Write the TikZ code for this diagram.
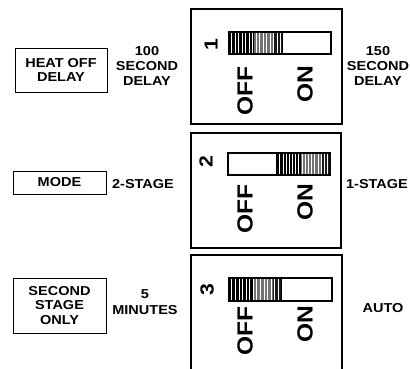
\documentclass[tikz,border=0pt]{standalone}
\usepackage{fontspec}
\setmainfont{Liberation Sans}[FakeStretch=1.12]
\newcommand{\swstripes}[4]{%
  \foreach \i in {0,...,36} {
    \pgfmathsetmacro{\xx}{#1+\i*(#2-#1)/36}
    \pgfmathsetmacro{\gv}{\i<17 ? 0 : (\i<31 ? 45 : 10)}
    \draw[line width=0.75bp, color={black!\fpeval{100-\gv}}] (\xx,#3) -- (\xx,#4);
  }%
}
\begin{document}
\begin{tikzpicture}[x=1bp,y=-1bp,
  lbl/.style={font=\bfseries\fontsize{13}{15.5}\selectfont, align=center, inner sep=0pt},
  sbox/.style={draw, line width=0.9bp, inner sep=0pt, font=\bfseries\fontsize{13}{14.5}\selectfont, align=center},
  bigbox/.style={draw, line width=1.4bp, inner sep=0pt},
  swbox/.style={draw, line width=1.3bp, fill=white, inner sep=0pt},
  onoff/.style={font=\bfseries\fontsize{22}{22}\selectfont, rotate=90, inner sep=0pt},
  num/.style={font=\bfseries\fontsize{19}{19}\selectfont, rotate=90, inner sep=0pt}]
\useasboundingbox (0,0) rectangle (410,369);

% row 1
\node[sbox, minimum width=92bp, minimum height=44bp] (hod) at (61,70) {HEAT OFF\\DELAY};
\node[lbl] (d100) at (147,66) {100\\SECOND\\DELAY};
\node[bigbox, minimum width=151bp, minimum height=115bp] (b1) at (266.5,66.5) {};
\node[swbox, minimum width=102bp, minimum height=22bp] (s1) at (280,43) {};
\swstripes{230.5}{281}{33}{53}
\draw[line width=1.3bp] (s1.north west) rectangle (s1.south east);
\draw[line width=1bp] (282,33) -- (282,53);
\node[num] (n1) at (211,45) {1};
\node[onoff] (off1) at (245,91) {OFF};
\node[onoff] (on1) at (305,84) {ON};
\node[lbl] (d150) at (378,66) {150\\SECOND\\DELAY};

% row 2
\node[sbox, minimum width=93bp, minimum height=23bp] (mode) at (59.5,182.5) {MODE};
\node[lbl] (st2) at (143,184) {2-STAGE};
\node[bigbox, minimum width=150bp, minimum height=115bp] (b2) at (266,190.5) {};
\node[swbox, minimum width=102bp, minimum height=22bp] (s2) at (279,164) {};
\swstripes{277}{329.5}{154}{174}
\draw[line width=1.3bp] (s2.north west) rectangle (s2.south east);
\draw[line width=1bp] (276,154) -- (276,174);
\node[num] (n2) at (206,162) {2};
\node[onoff] (off2) at (245,209) {OFF};
\node[onoff] (on2) at (305,202) {ON};
\node[lbl] (st1) at (377,184) {1-STAGE};

% row 3
\node[sbox, minimum width=93bp, minimum height=55bp] (sso) at (59.5,305.5) {SECOND\\STAGE\\ONLY};
\node[lbl] (min5) at (145,302) {5\\MINUTES};
\coordinate (b3bl) at (191,369);
\coordinate (b3tl) at (191,255);
\coordinate (b3tr) at (342,255);
\coordinate (b3br) at (342,369);
\draw[line width=1.4bp] (b3bl) -- (b3tl) -- (b3tr) -- (b3br);
\node[swbox, minimum width=103bp, minimum height=23bp] (s3) at (280.5,289.5) {};
\swstripes{230.5}{280.5}{279}{300}
\draw[line width=1.3bp] (s3.north west) rectangle (s3.south east);
\draw[line width=1bp] (281,279) -- (281,300);
\node[num] (n3) at (207,290) {3};
\node[onoff] (off3) at (245,331) {OFF};
\node[onoff] (on3) at (305,324) {ON};
\node[lbl] (auto) at (383,308) {AUTO};
\end{tikzpicture}
\end{document}
